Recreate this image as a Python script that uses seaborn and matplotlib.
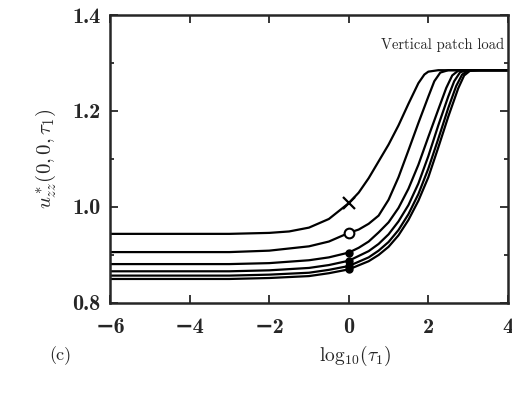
import matplotlib
matplotlib.use("Agg")
import matplotlib.pyplot as plt
import seaborn as sns
import pandas as pd

# values (x = log10(tau1), y = u*_zz(0,0,tau1))
x1 = [-6, -3, -2, -1.5, -1, -0.5, 0, 0.25, 0.5, 0.75, 1.0, 1.25, 1.5, 1.75, 1.9, 2.0, 2.25, 4]
y1 = [0.944, 0.944, 0.946, 0.949, 0.957, 0.975, 1.008, 1.030, 1.060, 1.095, 1.130, 1.170,
      1.215, 1.258, 1.276, 1.282, 1.285, 1.285]

x2 = [-6, -3, -2, -1, -0.5, 0, 0.25, 0.5, 0.75, 1.0, 1.25, 1.5, 1.75, 2.0, 2.15, 2.3, 2.5, 4]
y2 = [0.906, 0.906, 0.909, 0.918, 0.928, 0.946, 0.953, 0.965, 0.982, 1.015, 1.062, 1.118,
      1.175, 1.230, 1.262, 1.280, 1.285, 1.285]

x3 = [-6, -3, -2, -1, -0.5, 0, 0.25, 0.5, 0.75, 1.0, 1.25, 1.5, 1.75, 2.0, 2.25, 2.45, 2.6, 2.75, 3.0, 4]
y3 = [0.881, 0.881, 0.883, 0.889, 0.895, 0.905, 0.915, 0.928, 0.947, 0.968, 0.998, 1.038,
      1.088, 1.146, 1.203, 1.248, 1.274, 1.284, 1.285, 1.285]

x4 = [-6, -3, -2, -1, -0.5, 0, 0.5, 0.75, 1.0, 1.25, 1.5, 1.75, 2.0, 2.25, 2.5, 2.65, 2.8, 3.0, 4]
y4 = [0.866, 0.866, 0.868, 0.873, 0.879, 0.888, 0.908, 0.923, 0.943, 0.970, 1.004, 1.049,
      1.106, 1.170, 1.230, 1.262, 1.281, 1.285, 1.285]

x5 = [-6, -3, -2, -1, -0.5, 0, 0.5, 0.75, 1.0, 1.25, 1.5, 1.75, 2.0, 2.25, 2.5, 2.7, 2.85, 3.0, 3.2, 4]
y5 = [0.857, 0.857, 0.859, 0.863, 0.869, 0.877, 0.895, 0.909, 0.927, 0.952, 0.985, 1.027,
      1.080, 1.142, 1.206, 1.252, 1.276, 1.284, 1.285, 1.285]

x6 = [-6, -3, -2, -1, -0.5, 0, 0.5, 0.75, 1.0, 1.25, 1.5, 1.75, 2.0, 2.25, 2.5, 2.75, 2.9, 3.05, 3.3, 4]
y6 = [0.850, 0.850, 0.852, 0.856, 0.862, 0.870, 0.887, 0.900, 0.917, 0.941, 0.973, 1.013,
      1.062, 1.124, 1.188, 1.247, 1.274, 1.284, 1.285, 1.285]

curves_x = [x1, x2, x3, x4, x5, x6]
curves_y = [y1, y2, y3, y4, y5, y6]

# marker values at log10(tau1) = 0
mark_y = [1.008, 0.946, 0.905, 0.888, 0.877, 0.870]

xticks = [-6, -4, -2, 0, 2, 4]
yticks = [0.8, 1.0, 1.2, 1.4]

rows = []
for k, (xs, ys) in enumerate(zip(curves_x, curves_y)):
    for a, b in zip(xs, ys):
        rows.append({"x": a, "y": b, "curve": k})
df = pd.DataFrame(rows)

sns.set_style("ticks")
plt.rcParams["mathtext.fontset"] = "cm"

fig = plt.figure(figsize=(5.12, 3.95), dpi=100)
ax = fig.add_axes([0.215, 0.233, 0.777, 0.729])

sns.lineplot(data=df, x="x", y="y", units="curve", estimator=None, sort=False,
             color="black", linewidth=1.6, ax=ax, legend=False)

# markers at tau1 = 1
ax.plot([0], [mark_y[0]], marker="x", color="black", markersize=8, mew=1.6, ls="none")
ax.plot([0], [mark_y[1]], marker="o", mfc="white", mec="black", markersize=7, mew=1.5, ls="none")
ax.plot([0] * 4, mark_y[2:], marker="o", color="black", markersize=5, ls="none")

ax.set_xlim(-6, 4)
ax.set_ylim(0.8, 1.4)
ax.set_xticks(xticks)
ax.set_yticks(yticks)
ax.set_yticks([0.9, 1.1, 1.3], minor=True)
ax.set_xticklabels(["\u2212" + str(-t) if t < 0 else str(t) for t in xticks],
                   family=["cmb10", "DejaVu Serif"], fontweight="bold", fontsize=16)
ax.set_yticklabels([f"{t:.1f}" for t in yticks],
                   family=["cmb10", "DejaVu Serif"], fontweight="bold", fontsize=16)
ax.tick_params(which="both", direction="in", top=True, right=True, width=1.3)
ax.tick_params(which="major", length=6)
ax.tick_params(axis="x", which="major", pad=11)
ax.tick_params(axis="y", which="major", pad=7)
ax.tick_params(which="minor", length=3)
for s in ax.spines.values():
    s.set_linewidth(1.8)
    s.set_visible(True)

ax.set_xlabel("")
ax.set_ylabel(r"$u^*_{zz}(0,0,\tau_1)$", fontsize=15, labelpad=10)

ax.text(0.99, 0.895, "Vertical patch load", transform=ax.transAxes, ha="right", va="center",
        family="cmr10", fontsize=10.5)
fig.text(355 / 512, 1 - 356 / 395, r"$\mathrm{log}_{10}(\tau_1)$", ha="center", va="center", fontsize=14)
fig.text(60 / 512, 1 - 356 / 395, "(c)", family="cmr10", ha="center", va="center", fontsize=13)

fig.savefig("out.png", dpi=100)
